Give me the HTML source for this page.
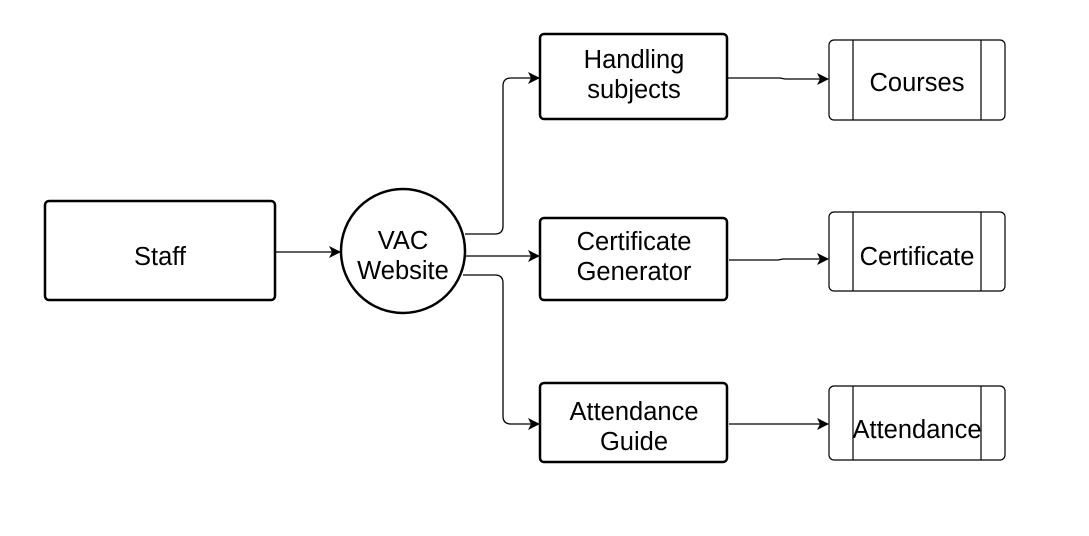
<!DOCTYPE html>
<html><head><style>body{margin:0;background:#fff}</style></head><body>
<svg width="1089" height="531" viewBox="0 0 1089 531" xmlns="http://www.w3.org/2000/svg" font-family="Liberation Sans, DejaVu Sans, sans-serif" font-size="25.5" fill="none">
<defs><marker id="a" markerWidth="12" markerHeight="12" refX="11" refY="6" orient="auto" markerUnits="userSpaceOnUse"><path d="M0,0 L12,6 L0,12 L3,6 Z" fill="#000"/></marker></defs>
<g stroke="#000" stroke-width="2.5">
<rect x="45" y="201" width="230" height="99" rx="4"/>
<circle cx="403" cy="251" r="62"/>
<rect x="540" y="34" width="187" height="85" rx="4"/>
<rect x="540" y="218" width="187" height="82" rx="4"/>
<rect x="540" y="383" width="187" height="79" rx="4"/>
</g>
<g stroke="#000" stroke-width="1.2">
<rect x="829" y="40" width="176" height="80" rx="5"/><line x1="853" y1="40" x2="853" y2="120"/><line x1="981" y1="40" x2="981" y2="120"/>
<rect x="829" y="212" width="176" height="79" rx="5"/><line x1="853" y1="212" x2="853" y2="291"/><line x1="981" y1="212" x2="981" y2="291"/>
<rect x="829" y="386" width="176" height="74" rx="5"/><line x1="853" y1="386" x2="853" y2="460"/><line x1="981" y1="386" x2="981" y2="460"/>
</g>
<g stroke="#000" stroke-width="1.3">
<path d="M276,252 H340" marker-end="url(#a)"/>
<path d="M465,234 H495 Q503,234 503,226 V86 Q503,78 511,78 H539" marker-end="url(#a)"/>
<path d="M466,256 H539" marker-end="url(#a)"/>
<path d="M463,275 H495 Q503,275 503,283 V416 Q503,424 511,424 H539" marker-end="url(#a)"/>
<path d="M728,78 H780 L785,79 H828" marker-end="url(#a)"/>
<path d="M729,260 H778 L783,259 H828" marker-end="url(#a)"/>
<path d="M729,424 H828" marker-end="url(#a)"/>
</g>
<g fill="#000" text-anchor="middle">
<text x="160" y="265">Staff</text>
<text x="403" y="249">VAC</text><text x="403" y="279">Website</text>
<text x="634" y="68">Handling</text><text x="634" y="98">subjects</text>
<text x="634" y="250">Certificate</text><text x="634" y="280">Generator</text>
<text x="634" y="420">Attendance</text><text x="634" y="450">Guide</text>
<text x="917" y="91">Courses</text>
<text x="917" y="265">Certificate</text>
<text x="917" y="438">Attendance</text>
</g>
</svg>
</body></html>
